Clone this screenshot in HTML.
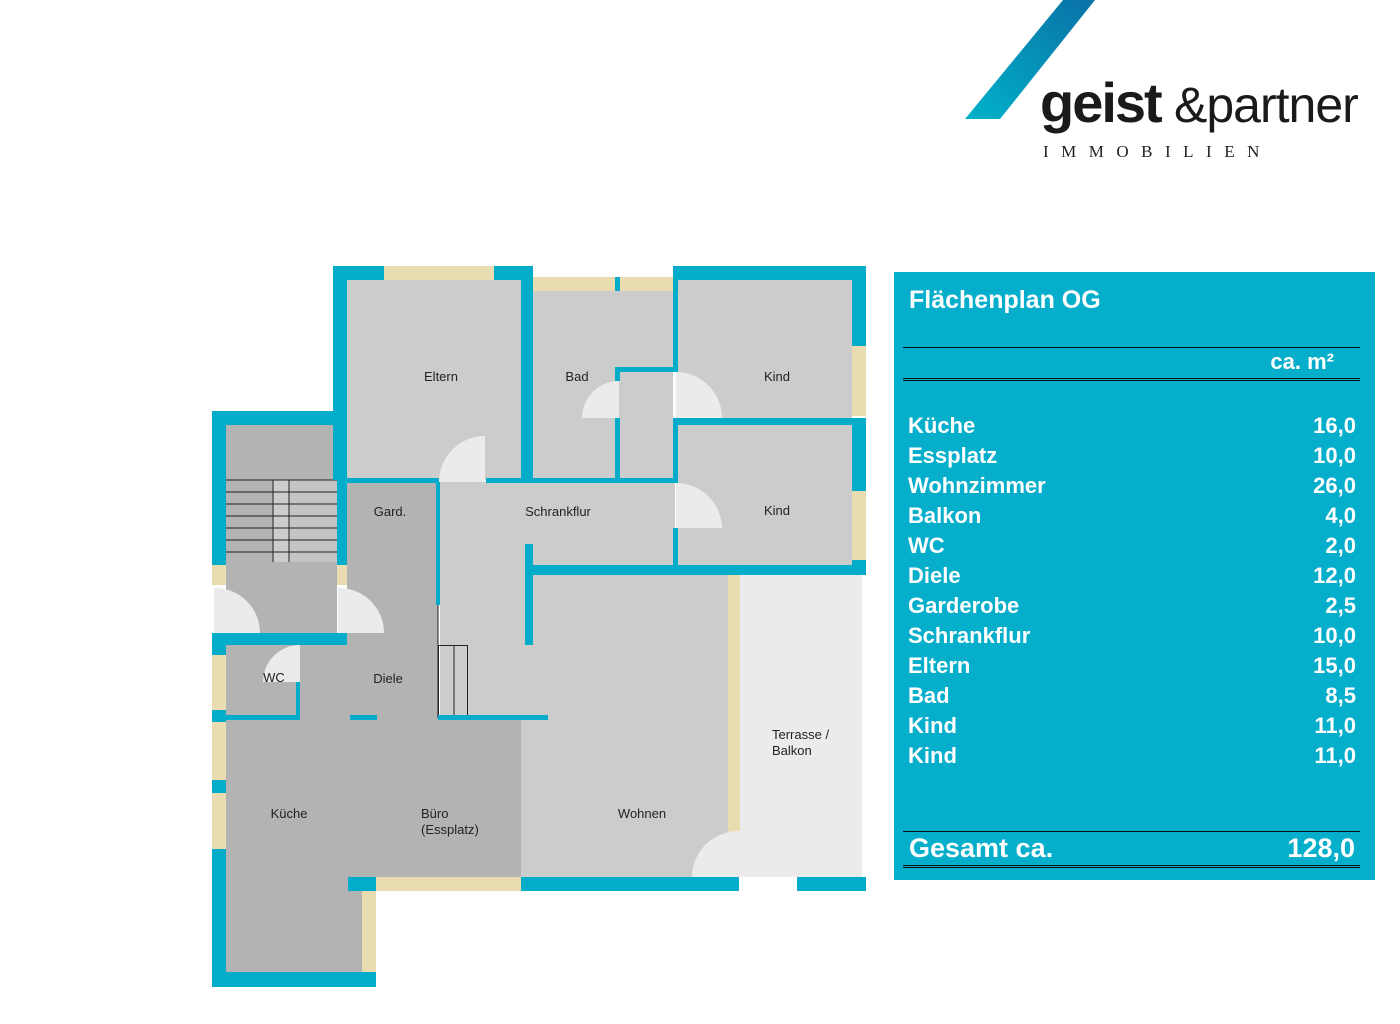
<!DOCTYPE html>
<html><head><meta charset="utf-8"><style>
body{margin:0;width:1400px;height:1024px;background:#fff;overflow:hidden;position:relative;font-family:"Liberation Sans",sans-serif}
.t{position:absolute;left:894px;top:272px;width:481px;height:608px;background:#05aecb;color:#fff}
.row{position:absolute;left:14px;width:448px;font-weight:bold;font-size:22px;line-height:30px}
.row span{position:absolute;right:0}
.ln{position:absolute;left:9px;width:457px;background:#111}
</style></head><body>
<svg width="1400" height="1024" style="position:absolute;left:0;top:0" font-family="Liberation Sans, sans-serif">
<defs><linearGradient id="g" x1="0" y1="1" x2="1" y2="0"><stop offset="0" stop-color="#00b3c9"/><stop offset="1" stop-color="#0a70a6"/></linearGradient></defs>
<polygon points="965,119 1000,119 1095,0 1063,0" fill="url(#g)"/>
<text x="1040" y="122" font-size="56" font-weight="bold" fill="#1a1a1a" letter-spacing="-2">geist</text>
<text x="1174" y="122" font-size="50" fill="#1a1a1a" letter-spacing="-1">&amp;partner</text>
<text x="1043" y="157" font-size="17" fill="#222" font-family="Liberation Serif, serif" letter-spacing="12.5">IMMOBILIEN</text>

<!-- floors -->
<g>
<rect x="347" y="280" width="174" height="200" fill="#ccc"/>
<rect x="533" y="291" width="140" height="191" fill="#ccc"/>
<rect x="678" y="280" width="174" height="140" fill="#ccc"/>
<rect x="678" y="425" width="174" height="140" fill="#ccc"/>
<rect x="440" y="482" width="235" height="85" fill="#ccc"/>
<rect x="440" y="565" width="90" height="155" fill="#ccc"/>
<rect x="521" y="575" width="207" height="302" fill="#ccc"/>
<rect x="740" y="575" width="122" height="302" fill="#ebebeb"/>
<rect x="226" y="425" width="111" height="208" fill="#b3b3b3"/>
<rect x="347" y="482" width="91" height="236" fill="#b3b3b3"/>
<rect x="226" y="645" width="212" height="75" fill="#b3b3b3"/>
<rect x="226" y="720" width="295" height="157" fill="#b3b3b3"/>
<rect x="226" y="877" width="136" height="95" fill="#b3b3b3"/>
</g>
<!-- stairs -->
<rect x="273" y="480" width="16" height="82" fill="#ccc"/>
<rect x="289" y="480" width="48" height="82" fill="#c4c4c4"/>
<g stroke="#222" stroke-width="1">
<line x1="226" y1="480" x2="337" y2="480"/><line x1="226" y1="492" x2="337" y2="492"/><line x1="226" y1="504" x2="337" y2="504"/><line x1="226" y1="516" x2="337" y2="516"/><line x1="226" y1="528" x2="337" y2="528"/><line x1="226" y1="540" x2="337" y2="540"/><line x1="226" y1="552" x2="337" y2="552"/>
<line x1="273" y1="480" x2="273" y2="562"/><line x1="289" y1="480" x2="289" y2="562"/>
<line x1="438" y1="605" x2="438" y2="718"/>
<rect x="438.5" y="645.5" width="29" height="72" fill="none"/><line x1="454" y1="645" x2="454" y2="718"/>
</g>
<!-- walls -->
<g fill="#03adc9">
<rect x="333" y="266" width="14" height="214"/><rect x="333" y="266" width="51" height="14"/><rect x="494" y="266" width="39" height="14"/>
<rect x="521" y="266" width="12" height="214"/>
<rect x="347" y="478" width="92" height="5"/><rect x="486" y="478" width="190" height="5"/>
<rect x="615" y="277" width="5" height="14"/>
<rect x="615" y="367" width="5" height="14"/><rect x="615" y="418" width="5" height="62"/><rect x="615" y="367" width="60" height="5"/>
<rect x="673" y="266" width="193" height="14"/><rect x="852" y="266" width="14" height="80"/>
<rect x="673" y="280" width="5" height="92"/>
<rect x="673" y="418" width="193" height="7"/><rect x="852" y="418" width="14" height="73"/><rect x="852" y="560" width="14" height="15"/>
<rect x="673" y="425" width="5" height="58"/><rect x="673" y="528" width="5" height="37"/>
<rect x="525" y="565" width="341" height="10"/><rect x="525" y="544" width="8" height="21"/><rect x="525" y="575" width="8" height="70"/>
<rect x="212" y="411" width="135" height="14"/><rect x="212" y="411" width="14" height="154"/><rect x="337" y="425" width="10" height="140"/>
<rect x="436" y="482" width="4" height="123"/>
<rect x="212" y="633" width="135" height="12"/><rect x="212" y="645" width="14" height="10"/><rect x="212" y="710" width="14" height="12"/><rect x="212" y="780" width="14" height="13"/><rect x="212" y="849" width="14" height="138"/>
<rect x="296" y="682" width="4" height="38"/><rect x="226" y="715" width="74" height="5"/>
<rect x="350" y="715" width="27" height="5"/><rect x="438" y="715" width="110" height="5"/>
<rect x="348" y="877" width="28" height="14"/><rect x="521" y="877" width="218" height="14"/><rect x="797" y="877" width="69" height="14"/>
<rect x="212" y="972" width="164" height="15"/>
</g>
<g fill="#e8dcb0">
<rect x="384" y="266" width="110" height="14"/><rect x="533" y="277" width="82" height="14"/><rect x="620" y="277" width="53" height="14"/>
<rect x="852" y="346" width="14" height="70"/><rect x="852" y="491" width="14" height="69"/>
<rect x="212" y="565" width="14" height="20"/><rect x="337" y="565" width="10" height="20"/>
<rect x="212" y="655" width="14" height="55"/><rect x="212" y="722" width="14" height="58"/><rect x="212" y="793" width="14" height="56"/>
<rect x="728" y="575" width="12" height="257"/>
<rect x="376" y="877" width="145" height="14"/><rect x="362" y="891" width="14" height="81"/>
</g>
<!-- doors -->
<g fill="#ebebeb">
<path d="M485,482 L485,436 A46,46 0 0 0 439,482Z"/>
<path d="M619,418 L619,381 A37,37 0 0 0 582,418Z"/>
<path d="M676,418 L676,372 A46,46 0 0 1 722,418Z"/>
<path d="M676,528 L676,483 A46,46 0 0 1 722,528Z"/>
<path d="M214,633 L214,588 A45,45 0 0 1 260,633Z"/>
<path d="M338,633 L338,588 A45,45 0 0 1 384,633Z"/>
<path d="M300,682 L300,645 A37,37 0 0 0 263,682Z"/>
<path d="M740,877 L740,831 A47,46 0 0 0 692,877Z"/>
</g>
<!-- labels -->
<g font-size="13" fill="#222">
<text x="441" y="381" text-anchor="middle">Eltern</text>
<text x="577" y="381" text-anchor="middle">Bad</text>
<text x="777" y="381" text-anchor="middle">Kind</text>
<text x="777" y="515" text-anchor="middle">Kind</text>
<text x="558" y="516" text-anchor="middle">Schrankflur</text>
<text x="390" y="516" text-anchor="middle">Gard.</text>
<text x="388" y="683" text-anchor="middle">Diele</text>
<text x="274" y="682" text-anchor="middle">WC</text>
<text x="289" y="818" text-anchor="middle">Küche</text>
<text x="421" y="818">Büro</text>
<text x="421" y="834">(Essplatz)</text>
<text x="642" y="818" text-anchor="middle">Wohnen</text>
<text x="772" y="739">Terrasse /</text>
<text x="772" y="755">Balkon</text>
</g>
</svg>
<div class="t">
<div style="position:absolute;left:15px;top:14px;font-size:25px;font-weight:bold">Flächenplan OG</div>
<div class="ln" style="top:75px;height:1px"></div>
<div class="row" style="top:75px;text-align:right;width:426px">ca. m²</div>
<div class="ln" style="top:106px;height:1px"></div><div class="ln" style="top:108px;height:1px"></div>
<div class="row" style="top:139px">Küche<span>16,0</span></div>
<div class="row" style="top:169px">Essplatz<span>10,0</span></div>
<div class="row" style="top:199px">Wohnzimmer<span>26,0</span></div>
<div class="row" style="top:229px">Balkon<span>4,0</span></div>
<div class="row" style="top:259px">WC<span>2,0</span></div>
<div class="row" style="top:289px">Diele<span>12,0</span></div>
<div class="row" style="top:319px">Garderobe<span>2,5</span></div>
<div class="row" style="top:349px">Schrankflur<span>10,0</span></div>
<div class="row" style="top:379px">Eltern<span>15,0</span></div>
<div class="row" style="top:409px">Bad<span>8,5</span></div>
<div class="row" style="top:439px">Kind<span>11,0</span></div>
<div class="row" style="top:469px">Kind<span>11,0</span></div>
<div class="ln" style="top:559px;height:1px"></div>
<div class="row" style="top:561px;font-size:27px;left:15px;width:446px">Gesamt ca.<span>128,0</span></div>
<div class="ln" style="top:593px;height:1px"></div><div class="ln" style="top:595px;height:1px"></div>
</div>
</body></html>
